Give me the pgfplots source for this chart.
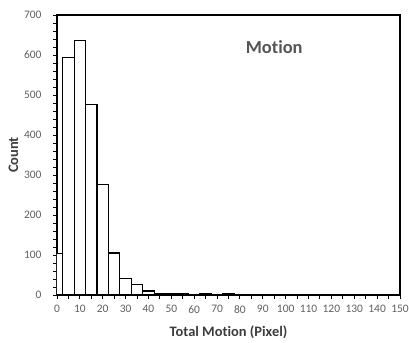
\documentclass[border=0pt]{standalone}
\usepackage{pgfplots}
\pgfplotsset{compat=1.18}
\usepackage{fontspec}
\setmainfont[Ligatures=NoCommon]{Carlito}
\definecolor{tickgray}{RGB}{95,95,95}
\definecolor{labgray}{RGB}{60,60,60}
\definecolor{titlegray}{RGB}{85,85,85}
\begin{document}
\begin{tikzpicture}
\useasboundingbox (-57bp,-48bp) rectangle (352bp,295bp);
\begin{axis}[
  at={(0,0)}, anchor=south west,
  scale only axis, width=343bp, height=280bp,
  xmin=0, xmax=150, ymin=0, ymax=700,
  xtick={0,10,...,150}, minor x tick num=1,
  ytick={0,100,...,700}, minor y tick num=4,
  tick pos=left, tick align=outside,
  major tick length=4bp, minor tick length=4bp,
  every tick/.style={black, line width=1pt},
  axis line style={black, line width=1.6pt},
  /pgf/number format/assume math mode=true,
  ticklabel style={font=\fontsize{11.5}{13}\selectfont, text=tickgray},
  xticklabel style={yshift=-3bp},
  yticklabel style={xshift=-8bp},
  xlabel={Total Motion (Pixel)}, ylabel={Count},
  label style={font=\bfseries\fontsize{14.5}{16}\selectfont, text=labgray},
  xlabel style={yshift=-6bp},
  ylabel style={yshift=-1bp},
  clip=true,
]
\addplot[ybar, bar width=5, bar shift=0pt, fill=white, draw=black, line width=1.2pt] coordinates {
(0,104) (5,593) (10,636) (15,477) (20,277) (25,105) (30,42)
(35,26) (40,10) (45,4) (50,3) (55,3) (60,0) (65,3)
(70,1) (75,3) (80,0)
};
\node[font=\bfseries\fontsize{18.5}{20}\selectfont, text=titlegray] at (axis cs:95,620) {Motion};
\end{axis}
\end{tikzpicture}
\end{document}
